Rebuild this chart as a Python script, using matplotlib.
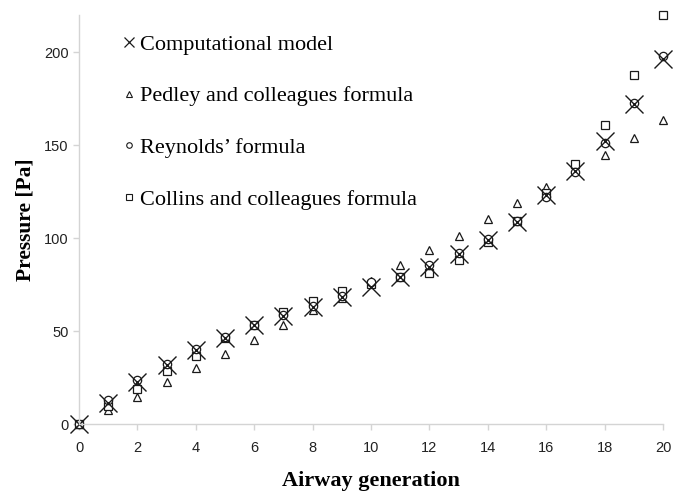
import numpy as np
import matplotlib.pyplot as plt
from matplotlib.lines import Line2D

# Datos
generacion = np.arange(0, 21)
modelo = [0, 11.3, 22.7, 31.6, 40.0, 46.5, 53.0, 58.0, 62.9, 68.2, 73.6,
          79.0, 84.7, 91.2, 99.0, 108.5, 123.3, 136.2, 152.3, 172.3, 196.1]
pedley = [0, 7.5, 14.6, 22.7, 29.9, 37.5, 45.4, 53.4, 61.1, 68.0, 76.8,
          85.3, 93.7, 101.3, 110.3, 118.7, 127.6, 137.0, 144.8, 154.0, 163.5]
reynolds = [0, 12.9, 23.6, 32.5, 40.5, 46.8, 53.0, 58.8, 63.3, 68.6, 76.3,
            79.3, 85.3, 91.8, 99.6, 109.0, 121.9, 135.8, 151.4, 172.8, 197.9]
collins = [0, 9.6, 18.8, 28.6, 36.5, 46.5, 53.0, 60.2, 66.1, 71.8, 75.5,
           79.0, 81.1, 88.3, 97.8, 109.0, 124.0, 139.8, 160.9, 187.7, 219.8]

etiquetas = ["Computational model", "Pedley and colleagues formula",
             "Reynolds\u2019 formula", "Collins and colleagues formula"]

serif = ['Liberation Serif', 'DejaVu Serif']
sans = ['Liberation Sans', 'DejaVu Sans']

fig = plt.figure(figsize=(6.73, 4.92), dpi=100)
ax = fig.add_axes([0.1174, 0.1382, 0.8677, 0.8313])

col = '#1a1a1a'
ax.plot(generacion, pedley, linestyle='none', marker='^', ms=6, mfc='white',
        mec=col, mew=0.9, clip_on=False)
ax.plot(generacion, collins, linestyle='none', marker='s', ms=5.5, mfc='white',
        mec=col, mew=0.9, clip_on=False)
ax.plot(generacion, reynolds, linestyle='none', marker='o', ms=6, mfc='white',
        mec=col, mew=0.9, clip_on=False)
ax.plot(generacion, modelo, linestyle='none', marker='x', ms=13, mec=col,
        mew=1.0, clip_on=False)

ax.set_xlim(0, 20)
ax.set_ylim(0, 220)
ax.set_xticks(range(0, 21, 2))
ax.set_yticks([0, 50, 100, 150, 200])

for s in ['top', 'right']:
    ax.spines[s].set_visible(False)
for s in ['left', 'bottom']:
    ax.spines[s].set_color('#d4d4d4')
    ax.spines[s].set_linewidth(1.0)
ax.tick_params(colors='#d4d4d4', labelcolor='#222222', length=4, width=1,
               labelsize=10.5)
for lab in ax.get_xticklabels() + ax.get_yticklabels():
    lab.set_family(sans)
ax.tick_params(axis='x', pad=8)

ax.set_xlabel("Airway generation", family=serif, fontsize=16,
              fontweight='bold', labelpad=12)
ax.set_ylabel("Pressure [Pa]", family=serif, fontsize=15.5,
              fontweight='bold', labelpad=6)

# Leyenda con marcadores pequenos
handles = [
    Line2D([], [], linestyle='none', marker='x', ms=7, mec=col, mew=0.9),
    Line2D([], [], linestyle='none', marker='^', ms=4, mfc='white', mec=col, mew=0.8),
    Line2D([], [], linestyle='none', marker='o', ms=4, mfc='white', mec=col, mew=0.8),
    Line2D([], [], linestyle='none', marker='s', ms=4, mfc='white', mec=col, mew=0.8),
]
ax.legend(handles, etiquetas, loc='upper left', bbox_to_anchor=(0.059, 0.975),
          frameon=False, prop={'family': serif, 'size': 16},
          handlelength=0.6, handletextpad=0.2, labelspacing=1.4,
          borderaxespad=0)

fig.savefig('out.png', dpi=100)
